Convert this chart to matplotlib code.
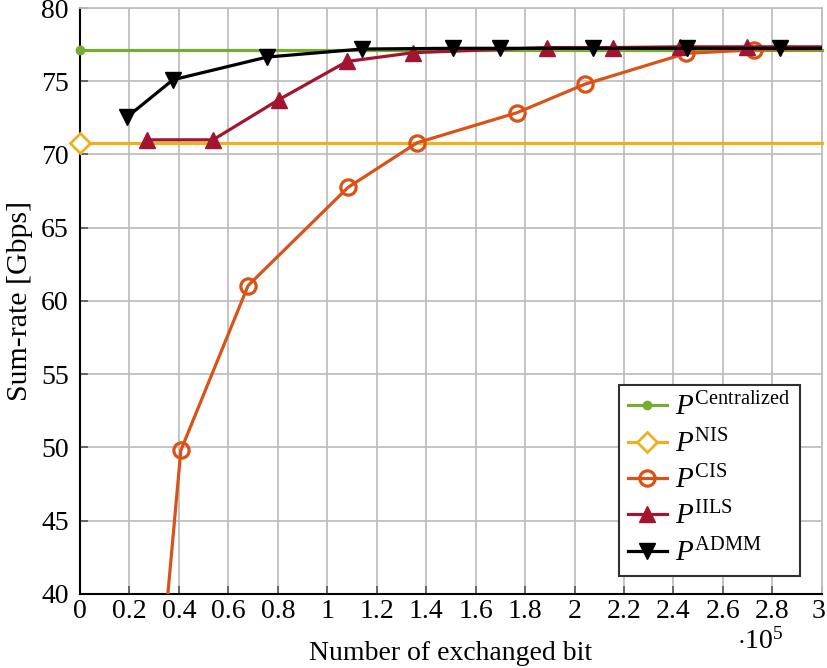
import matplotlib.pyplot as plt
import matplotlib.transforms as mtransforms
import numpy as np

plt.rcParams['font.family'] = 'Liberation Serif'
plt.rcParams['mathtext.fontset'] = 'custom'
plt.rcParams['mathtext.rm'] = 'Liberation Serif'
plt.rcParams['mathtext.it'] = 'Liberation Serif:italic'

# data (x in units of 1e5 bits)
central_x = [0.0, 3.0]
central_y = [77.15, 77.15]

nis_x = [0.0, 3.0]
nis_y = [70.8, 70.8]

cis_x = [0.136, 0.408, 0.68, 1.084, 1.363, 1.767, 2.042, 2.45, 2.725, 3.0]
cis_y = [-1.0, 49.8, 61.05, 67.75, 70.8, 72.85, 74.8, 76.9, 77.15, 77.2]

iils_x = [0.271, 0.538, 0.805, 1.08, 1.347, 1.889, 2.156, 2.426, 2.697, 3.0]
iils_y = [71.0, 71.0, 73.75, 76.35, 76.95, 77.3, 77.3, 77.35, 77.35, 77.35]

admm_x = [0.19, 0.376, 0.756, 1.14, 1.508, 1.698, 2.075, 2.454, 2.83, 3.0]
admm_y = [72.55, 75.1, 76.65, 77.2, 77.25, 77.25, 77.25, 77.25, 77.25, 77.25]

x_ticks = np.arange(0, 3.01, 0.2)
x_labels = ['0', '0.2', '0.4', '0.6', '0.8', '1', '1.2', '1.4', '1.6', '1.8',
            '2', '2.2', '2.4', '2.6', '2.8', '3']
y_ticks = np.arange(40, 81, 5)

fig = plt.figure(figsize=(8.27, 6.68), dpi=100)
ax = fig.add_axes([0.0967, 0.111, 0.897, 0.877])

lw = 2.3
ax.plot(central_x, central_y, color='#77AC30', lw=lw, marker='o', ms=6,
        markevery=[0], label=r'$P^{\mathrm{Centralized}}$', zorder=3,
        clip_on=False)
ax.plot(nis_x, nis_y, color='#EDB120', lw=lw, marker='D', ms=10.5, mfc='white',
        mew=2, markevery=[0], label=r'$P^{\mathrm{NIS}}$', zorder=3,
        clip_on=False)
ax.plot(cis_x, cis_y, color='#D95319', lw=lw, marker='o', ms=11, mfc='none',
        mew=2.3, markevery=slice(1, -1), label=r'$P^{\mathrm{CIS}}$', zorder=4)
ax.plot(iils_x, iils_y, color='#A2142F', lw=lw, marker='^', ms=11,
        markevery=slice(0, -1), label=r'$P^{\mathrm{IILS}}$', zorder=5)
ax.plot(admm_x, admm_y, color='black', lw=lw, marker='v', ms=11,
        markevery=slice(0, -1), label=r'$P^{\mathrm{ADMM}}$', zorder=5)

ax.set_xlim(0, 3)
ax.set_ylim(40, 80)
ax.set_xticks(x_ticks)
ax.set_xticklabels(x_labels)
ax.set_yticks(y_ticks)
ax.grid(True, color='#bfbfbf', lw=1.3)
ax.set_axisbelow(True)
ax.tick_params(direction='in', length=6, width=1.3, color='#606060',
               labelsize=20)
ax.tick_params(axis='x', pad=4)
ax.tick_params(axis='y', pad=8)
for s in ['top', 'right']:
    ax.spines[s].set_color('#bfbfbf')
    ax.spines[s].set_linewidth(1.3)
for s in ['left', 'bottom']:
    ax.spines[s].set_color('black')
    ax.spines[s].set_linewidth(1.5)

# nudge the last x label so it stays inside the figure
last = ax.get_xticklabels()[-1]
last.set_transform(last.get_transform() +
                   mtransforms.ScaledTranslation(-3 / 100, 0, fig.dpi_scale_trans))

ax.set_xlabel('Number of exchanged bit', fontsize=20, labelpad=12)
ax.set_ylabel('Sum-rate [Gbps]', fontsize=21.5, labelpad=6)
fig.text(0.919, 0.040, r'$\cdot10^5$', fontsize=20, ha='center', va='center')

leg = ax.legend(loc='lower right', bbox_to_anchor=(0.970, 0.031), fontsize=21,
                fancybox=False, framealpha=1, edgecolor='#303030',
                handlelength=1.35, borderpad=0.3, labelspacing=0.27,
                handletextpad=0.28, borderaxespad=0)
leg.get_frame().set_linewidth(1.5)

plt.savefig('out.png', dpi=100)
